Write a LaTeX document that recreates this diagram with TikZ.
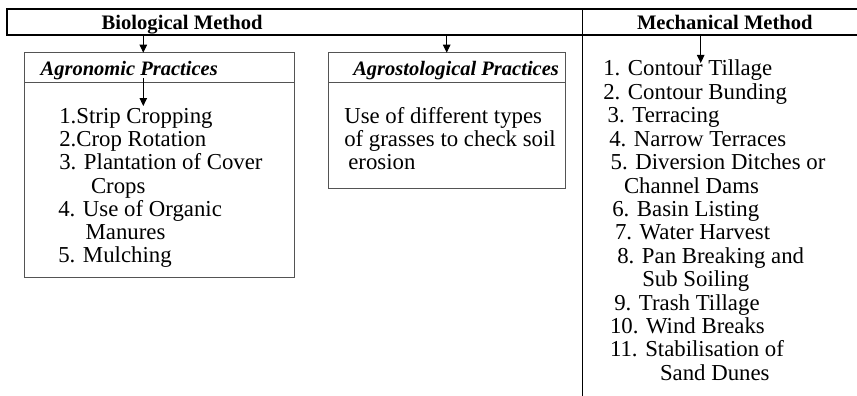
\documentclass[tikz,border=0pt]{standalone}
\usepackage{fontspec}
\setmainfont{Liberation Serif}
\usepackage{tikz}
\usetikzlibrary{positioning, arrows.meta}
\definecolor{framegrey}{rgb}{0.33, 0.33, 0.33}

\begin{document}
\begin{tikzpicture}[x=1pt, y=-1pt, every node/.style={inner sep=0pt, outer sep=0pt},
		headtext/.style={font=\fontsize{20.6}{24}\selectfont\bfseries, anchor=base west},
		titletext/.style={font=\fontsize{20.5}{24}\selectfont\bfseries\itshape, anchor=base west},
		itemtext/.style={font=\fontsize{22.8}{23.4}\selectfont, anchor=base west},
		framebox/.style={draw=framegrey, line width=0.9pt, anchor=north west, minimum width=#1},
		downarrow/.style={-{Triangle[length=8pt, width=7.5pt]}, line width=1pt}]
		\useasboundingbox (0,0) rectangle (857,396);
		% header bar and divider
		\draw[line width=1.3pt] (857,9) -- (7,9) -- (7,35) -- (857,35);
		\draw[line width=1.5pt] (582.7,9) -- (582.7,396);
		\node[headtext] (bio) at (101.7,29.5) {Biological Method};
		\node[headtext] (mech) at (637,29.5) {Mechanical Method};
		% boxes
		\node[framebox=270.7pt, minimum height=30pt] (agrotop) at (24,52.7) {};
		\node[framebox=270.7pt, minimum height=194.6pt, below=0pt of agrotop] (agrolist) {};
		\node[framebox=237.3pt, minimum height=30pt] (grasstop) at (328,52.7) {};
		\node[framebox=237.3pt, minimum height=105.6pt, below=0pt of grasstop] (grasslist) {};
		\node[titletext] (agrotitle) at (40.7,75) {Agronomic Practices};
		\node[titletext] (grasstitle) at (353.3,75) {Agrostological Practices};
		% arrows
		\coordinate (biofoot) at (143.3,35);
		\coordinate (grassfoot) at (446.7,35);
		\coordinate (mechfoot) at (700.7,35);
		\coordinate (agrostart) at (143.3,78);
		\coordinate (agroend) at (143.3,106);
		\coordinate (mechend) at (700.7,63);
		\draw[downarrow] (biofoot) -- (biofoot |- agrotop.north);
		\draw[downarrow] (grassfoot) -- (grassfoot |- grasstop.north);
		\draw[downarrow] (agrostart) -- (agroend);
		\draw[downarrow] (mechfoot) -- (mechend);
		% lists
		\foreach \dx/\txt [count=\i] in {59.3/{1.Strip Cropping}, 59.3/{2.Crop Rotation}, 59.3/{3. Plantation of Cover}, 91/{Crops}, 58.3/{4. Use of Organic}, 85.7/{Manures}, 58.3/{5. Mulching}}
			\node[itemtext] (agro\i) at (\dx, {123.3+23.25*(\i-1)}) {\txt};
		\foreach \dx/\txt [count=\i] in {344.3/{Use of different types}, 344.3/{of grasses to check soil}, 348.3/{erosion}}
			\node[itemtext] (grass\i) at (\dx, {123.3+23.25*(\i-1)}) {\txt};
		\foreach \dx/\txt [count=\i] in {603.3/{1. Contour Tillage}, 603.3/{2. Contour Bunding}, 607.7/{3. Terracing}, 609.3/{4. Narrow Terraces}, 610.7/{5. Diversion Ditches or}, 624/{Channel Dams}, 612.3/{6. Basin Listing}, 615/{7. Water Harvest}, 617.3/{8. Pan Breaking and}, 642.3/{Sub Soiling}, 614.3/{9. Trash Tillage}, 610/{10. Wind Breaks}, 610/{11. Stabilisation of}, 660/{Sand Dunes}}
			\node[itemtext] (mech\i) at (\dx, {76+23.4*(\i-1)}) {\txt};
\end{tikzpicture}
\end{document}
